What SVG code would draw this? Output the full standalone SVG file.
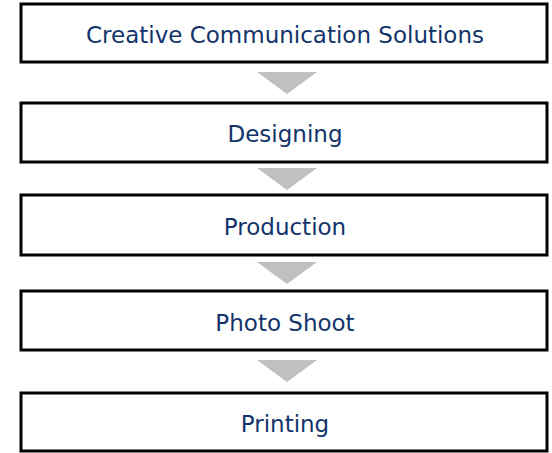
<svg xmlns="http://www.w3.org/2000/svg" width="552" height="453" viewBox="0 0 552 453">
<style>
.box{fill:#ffffff;stroke:#000000;stroke-width:3}
.lbl{font-family:"DejaVu Sans","Liberation Sans",sans-serif;font-size:23px;fill:#12346b;text-anchor:middle}
.arr{fill:#c0c0c0;stroke:none}
</style>
<rect width="552" height="453" fill="#ffffff"/>
<g id="connectors">
<polygon class="arr" points="257,72 317,72 287,94"/>
<polygon class="arr" points="257,168 317,168 287,190"/>
<polygon class="arr" points="257,262 317,262 287,284"/>
<polygon class="arr" points="257,360 317,360 287,382"/>
</g>
<g id="node1"><rect class="box" x="21" y="4" width="526" height="58"/><text class="lbl" x="285" y="43">Creative Communication Solutions</text></g>
<g id="node2"><rect class="box" x="21" y="103" width="526" height="59"/><text class="lbl" x="285" y="142">Designing</text></g>
<g id="node3"><rect class="box" x="21" y="195" width="526" height="60"/><text class="lbl" x="285" y="235">Production</text></g>
<g id="node4"><rect class="box" x="21" y="291" width="526" height="59"/><text class="lbl" x="285" y="331">Photo Shoot</text></g>
<g id="node5"><rect class="box" x="21" y="393" width="526" height="58"/><text class="lbl" x="285" y="432">Printing</text></g>
</svg>
